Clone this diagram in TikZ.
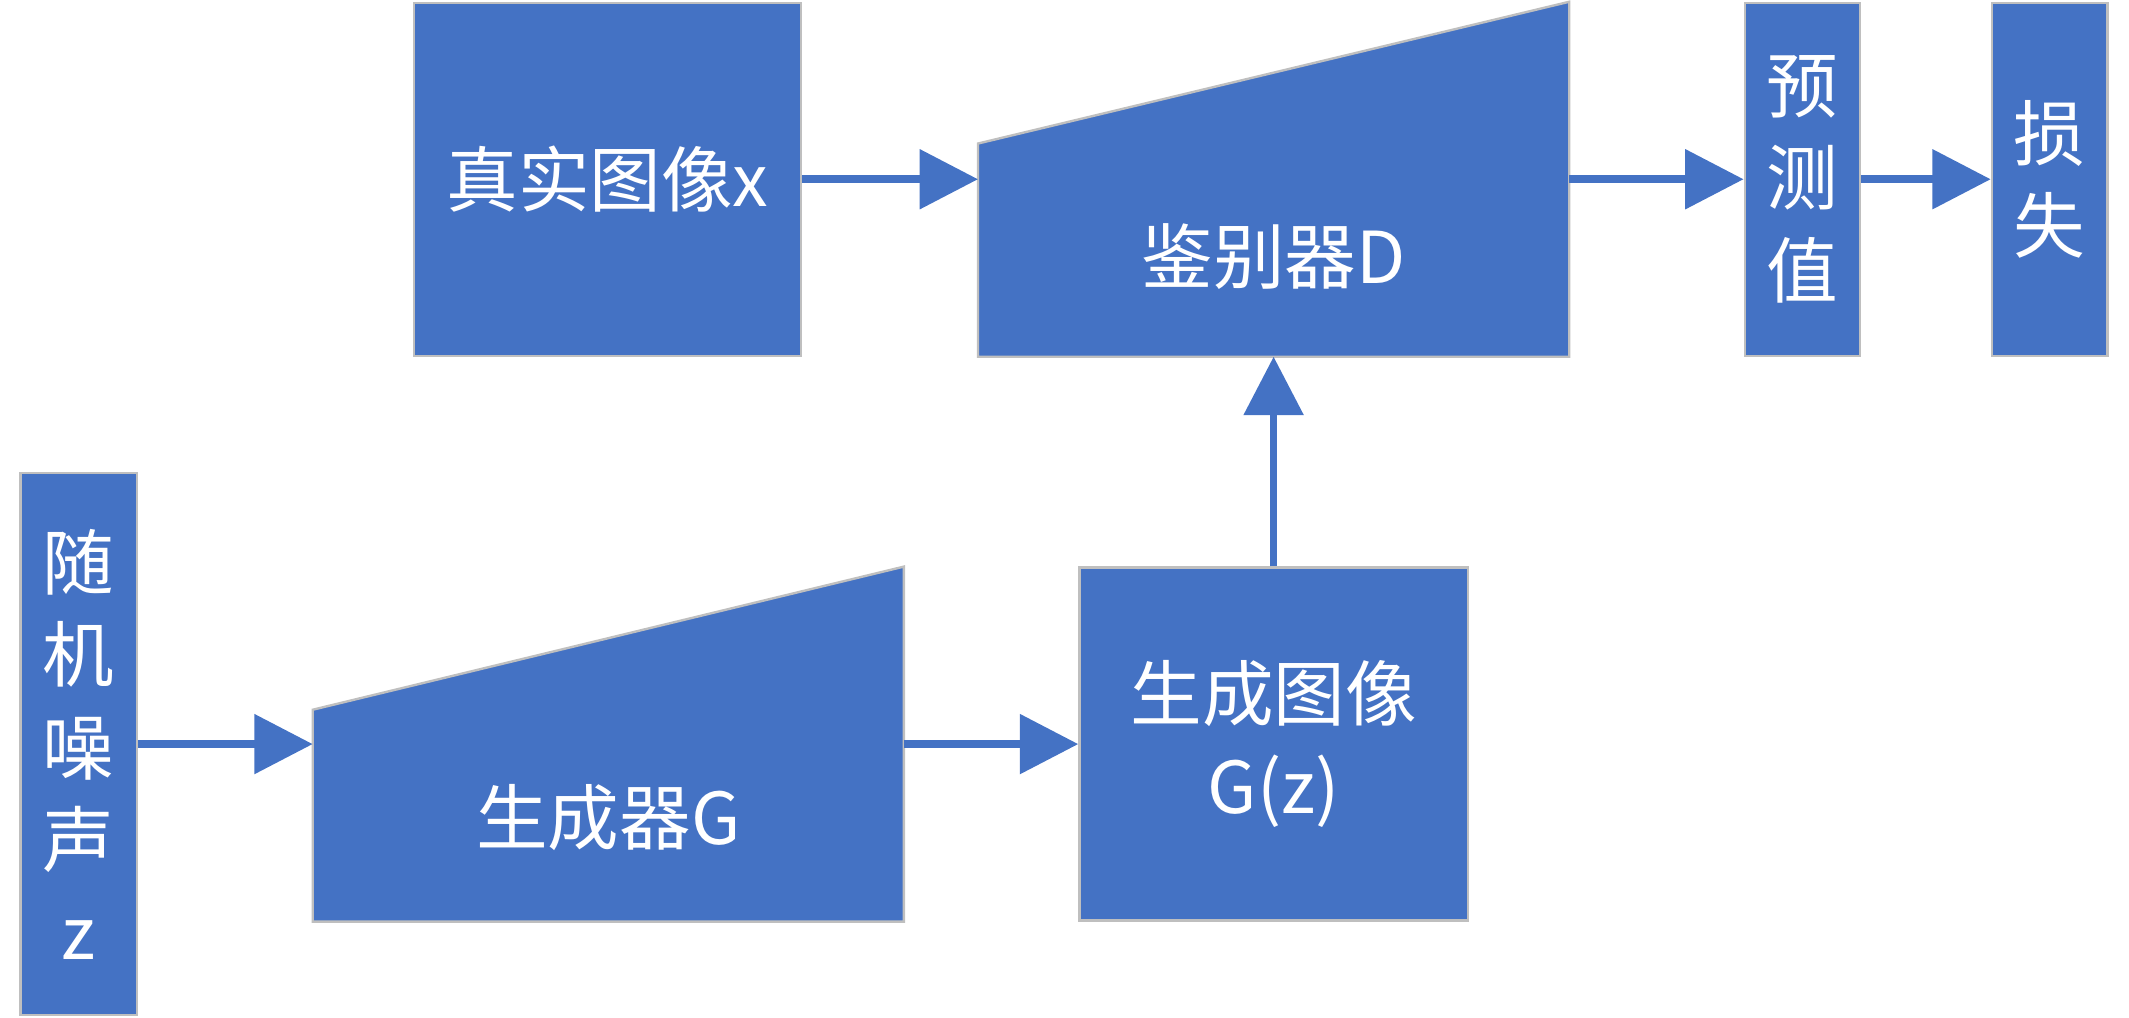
\documentclass[tikz,border=0pt]{standalone}
\usepackage{fontspec}
\newfontfamily\cjk{Noto Sans CJK SC}
\usepackage{tikz}
\usetikzlibrary{arrows.meta,positioning,calc}
\usepackage{xcolor}
\definecolor{ganblue}{RGB}{68,114,196}
\definecolor{edgegray}{RGB}{191,191,191}
\tikzset{
  gblock/.style={
    rectangle, draw=edgegray, fill=ganblue, line width=0.5pt, inner sep=0pt,
    text=white, align=center, font=\cjk\fontsize{15}{19.4}\selectfont
  },
  gshape/.style={rectangle, inner sep=0pt, minimum width=4.34cm, minimum height=2.6cm},
  gfill/.style={draw=edgegray, fill=ganblue, line width=0.5pt},
  gtext/.style={text=white, font=\cjk\fontsize{15}{19.4}\selectfont},
  garrow/.style={draw=ganblue, line width=1.6pt, -{Triangle[length=4.3mm,width=4.3mm]}}
}
\begin{document}
\begin{tikzpicture}
    \useasboundingbox (0,0) rectangle (15.68,7.49);
    % Nodes
    \node[gblock, minimum width=2.85cm, minimum height=2.6cm] (real)  at (4.475,6.17) {真实图像x};
    \node[gshape]                                            (disc)  at (9.38,6.17)  {};
    \node[gblock, minimum width=0.85cm, minimum height=2.6cm] (pred)  at (13.275,6.17) {预\\测\\值};
    \node[gblock, minimum width=0.85cm, minimum height=2.6cm] (loss)  at (15.095,6.17) {损\\失};
    \node[gblock, minimum width=0.86cm, minimum height=3.99cm] (noise) at (0.58,2.01) {随\\机\\噪\\声\\z};
    \node[gshape]                                            (gen)   at (4.48,2.01)  {};
    \node[gblock, minimum width=2.86cm, minimum height=2.6cm] (fake)  at (9.38,2.01)  {生成图像\\G(z)};
    % Trapezoids
    \filldraw[gfill] (disc.south west) -- ++(0,1.57) -- (disc.north east) -- (disc.south east) -- cycle;
    \node[gtext] (disclabel) at ([yshift=-1.88cm]disc.north) {鉴别器D};
    \filldraw[gfill] (gen.south west) -- ++(0,1.56) -- (gen.north east) -- (gen.south east) -- cycle;
    \node[gtext] (genlabel) at ([yshift=-1.85cm]gen.north) {生成器G};
    % Arrows
    \draw[garrow] (real.east) -- (disc.west);
    \draw[garrow] (disc.east) -- (pred.west);
    \draw[garrow] (pred.east) -- (loss.west);
    \draw[garrow] (noise.east) -- (gen.west);
    \draw[garrow] (gen.east) -- (fake.west);
    \draw[garrow] (fake.north) -- (disc.south);
\end{tikzpicture}
\end{document}
